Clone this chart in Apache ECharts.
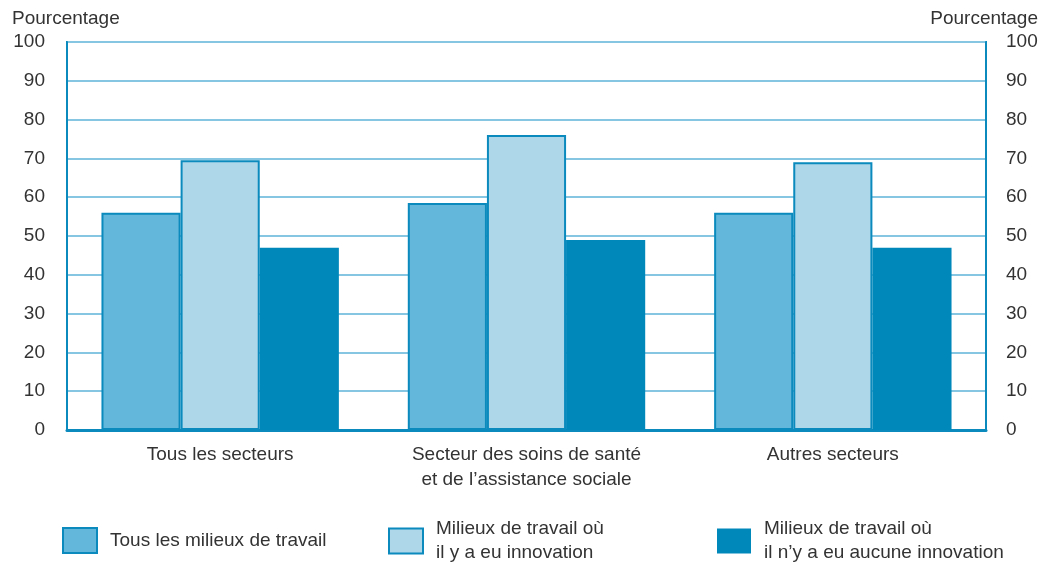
<!DOCTYPE html>
<html>
<head>
<meta charset="utf-8">
<script src="https://cdn.jsdelivr.net/npm/echarts@6/dist/echarts.min.js"></script>
<style>
  html, body { margin: 0; padding: 0; background: #fff; }
  #chart { width: 1055px; height: 565px; }
</style>
</head>
<body>
<div id="chart"></div>
<script>
  // data
  let categories = ['Tous les secteurs', 'Secteur des soins de santé\net de l’assistance sociale', 'Autres secteurs'];
  let seriesNames = ['Tous les milieux de travail', 'Milieux de travail où\nil y a eu innovation', 'Milieux de travail où\nil n’y a eu aucune innovation'];
  let tousMilieux = [56, 58.5, 56];
  let avecInnovation = [69.5, 76, 69];
  let sansInnovation = [47, 49, 47];

  let font = 'Liberation Sans';
  let fs = 19;
  let blue = '#0a8abd';
  let colors = ['#63b7da', '#afd7ea', '#0088ba'];

  let chart = echarts.init(document.getElementById('chart'));

  let yAxis = (pos) => ({
    type: 'value',
    position: pos,
    min: 0,
    max: 100,
    interval: 10,
    name: 'Pourcentage',
    nameLocation: 'end',
    nameGap: 14,
    nameTextStyle: {
      fontFamily: font, fontSize: fs, color: '#333',
      align: pos == 'left' ? 'left' : 'right',
      padding: pos == 'left' ? [0, 0, 0, -55] : [0, -52, 0, 0]
    },
    axisLine: { show: true, lineStyle: { color: blue, width: 2 } },
    axisTick: { show: false },
    axisLabel: {
      fontFamily: font, fontSize: fs, color: '#333', margin: pos == 'left' ? 22 : 20,
      align: pos == 'left' ? 'right' : 'left'
    },
    splitLine: { show: pos == 'left', lineStyle: { color: '#86c6e2', width: 2 } }
  });

  let series = [tousMilieux, avecInnovation, sansInnovation].map((vals, i) => ({
    name: seriesNames[i],
    type: 'bar',
    data: vals,
    barGap: '0%',
    barCategoryGap: '22.5%',
    itemStyle: {
      color: colors[i],
      borderColor: blue,
      borderWidth: i < 2 ? 2 : 0
    }
  }));

  let legendLefts = [62, 388, 717];
  let legendTops = [527, 517, 517];
  let legends = seriesNames.map((n, i) => ({
    data: [n],
    left: legendLefts[i],
    top: legendTops[i],
    padding: 0,
    orient: 'horizontal',
    icon: 'rect',
    itemWidth: 34,
    itemHeight: 25,
    itemGap: 0,
    selectedMode: false,
    textStyle: { fontFamily: font, fontSize: fs, color: '#333', lineHeight: 24, padding: [0, 0, 0, 8] }
  }));

  let chart_opts = {
    animation: false,
    textStyle: { fontFamily: font },
    grid: {
      left: 67, right: 69, top: 42, bottom: 135,
      show: true, borderColor: blue, borderWidth: 2
    },
    legend: legends,
    xAxis: {
      type: 'category',
      data: categories,
      axisLine: { show: true, lineStyle: { color: blue, width: 3 } },
      axisTick: { show: false },
      axisLabel: { fontFamily: font, fontSize: fs, color: '#333', lineHeight: 25, margin: 12 }
    },
    yAxis: [yAxis('left'), yAxis('right')],
    series: series
  };

  chart.setOption(chart_opts);
</script>
</body>
</html>
